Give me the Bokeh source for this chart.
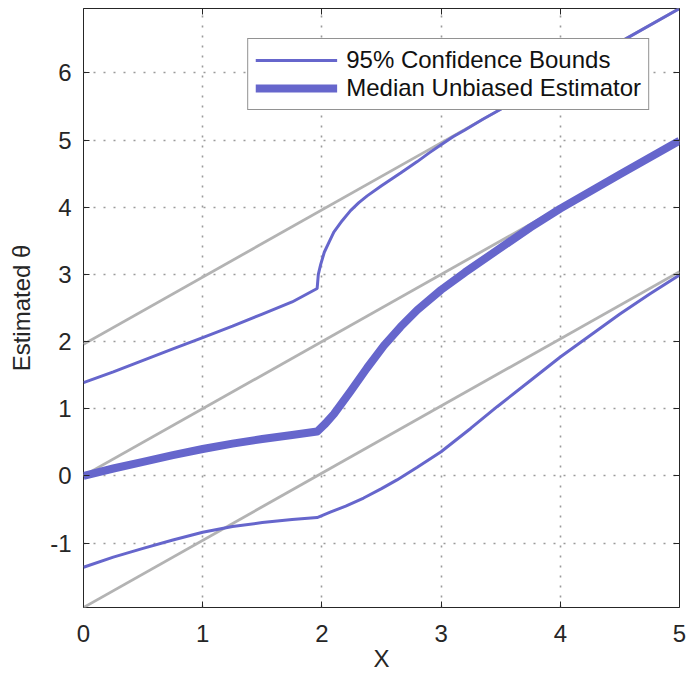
from bokeh.plotting import figure
from bokeh.models import LinearAxis, Legend, LegendItem, Range1d, FixedTicker
from bokeh.embed import file_html
from bokeh.resources import INLINE

# ---- data ----
x_upper = [0.0, 0.25, 0.5, 0.75, 1.0, 1.25, 1.5, 1.75, 1.96, 1.97, 1.99, 2.02, 2.06, 2.1,
           2.17, 2.24, 2.31, 2.38, 2.5, 2.66, 2.8, 2.9, 3.0, 3.1, 3.2, 3.35, 3.5, 4.0, 4.5, 5.0]
y_upper = [1.39, 1.55, 1.72, 1.89, 2.06, 2.23, 2.41, 2.59, 2.79, 3.00, 3.15, 3.33, 3.48, 3.63,
           3.80, 3.95, 4.07, 4.17, 4.32, 4.51, 4.68, 4.81, 4.93, 5.05, 5.15, 5.31, 5.46, 5.96, 6.46, 6.96]

x_median = [0.0, 0.25, 0.5, 0.75, 1.0, 1.25, 1.5, 1.75, 1.96, 2.03, 2.1, 2.24, 2.38, 2.52,
            2.66, 2.8, 3.0, 3.2, 3.47, 3.75, 4.0, 4.5, 5.0]
y_median = [0.0, 0.11, 0.21, 0.31, 0.40, 0.48, 0.55, 0.61, 0.66, 0.78, 0.92, 1.26, 1.61, 1.94,
            2.22, 2.47, 2.77, 3.03, 3.36, 3.70, 3.98, 4.49, 4.99]

x_lower = [0.0, 0.25, 0.5, 0.75, 1.0, 1.25, 1.5, 1.75, 1.96, 2.07, 2.2, 2.35, 2.5, 2.63,
           2.8, 3.0, 3.25, 3.47, 3.75, 4.0, 4.25, 4.5, 4.75, 5.0]
y_lower = [-1.36, -1.21, -1.08, -0.955, -0.84, -0.755, -0.695, -0.65, -0.62, -0.54, -0.45, -0.33,
           -0.19, -0.06, 0.13, 0.36, 0.71, 1.03, 1.42, 1.77, 2.09, 2.41, 2.71, 2.99]

ref_x = [0.0, 5.0]
ref_offsets = [1.96, 0.0, -1.96]

x_ticks = [0, 1, 2, 3, 4, 5]
y_ticks = [-1, 0, 1, 2, 3, 4, 5, 6]
y_tick_labels = {-1: "-1"}

BLUE = "#6666CC"
GRAY = "#B3B3B3"
DARK = "#262626"
FONT = "Liberation Sans"

p = figure(width=686, height=677, output_backend="svg", toolbar_location=None,
           x_range=Range1d(0, 5), y_range=Range1d(-1.96, 6.96),
           min_border_left=83, min_border_right=7, min_border_top=8, min_border_bottom=70,
           x_axis_label="X", y_axis_label="Estimated θ")
p.background_fill_color = "white"
p.border_fill_color = "white"
p.outline_line_color = DARK
p.outline_line_width = 1
p.outline_line_alpha = 1

# reference lines
for off in ref_offsets:
    p.line(ref_x, [v + off for v in ref_x], line_color=GRAY, line_width=2.8)

r_lo = p.line(x_lower, y_lower, line_color=BLUE, line_width=3)
r_up = p.line(x_upper, y_upper, line_color=BLUE, line_width=3)
r_med = p.line(x_median, y_median, line_color=BLUE, line_width=8, line_join="round")

# axes styling
for ax in (p.xaxis[0], p.yaxis[0]):
    ax.axis_line_color = None
    ax.major_tick_in = 6
    ax.major_tick_out = 0
    ax.major_tick_line_color = DARK
    ax.minor_tick_line_color = None
    ax.major_label_text_font = FONT
    ax.major_label_text_font_size = "24px"
    ax.major_label_text_color = DARK
    ax.axis_label_text_font = FONT
    ax.axis_label_text_font_size = "24px"
    ax.axis_label_text_font_style = "normal"
    ax.axis_label_text_color = DARK
p.xaxis[0].ticker = FixedTicker(ticks=x_ticks)
p.yaxis[0].ticker = FixedTicker(ticks=y_ticks)
p.yaxis[0].major_label_overrides = y_tick_labels
p.xaxis[0].major_label_standoff = 17
p.xaxis[0].axis_label_standoff = 0
p.yaxis[0].major_label_standoff = 12
p.yaxis[0].axis_label_standoff = 12

# tick-only axes on top and right (labels not drawn)
for loc, ticks in (("right", y_ticks), ("above", x_ticks)):
    a = LinearAxis(ticker=FixedTicker(ticks=ticks), axis_line_color=None,
                   major_tick_in=6, major_tick_out=0, major_tick_line_color=DARK,
                   minor_tick_line_color=None, major_label_text_font_size="1px",
                   major_label_text_color=None, major_label_standoff=0)
    p.add_layout(a, loc)

# grid
p.xgrid.ticker = FixedTicker(ticks=x_ticks)
p.ygrid.ticker = FixedTicker(ticks=y_ticks)
for g in (p.xgrid[0], p.ygrid[0]):
    g.grid_line_color = "#9a9a9a"
    g.grid_line_dash = "2 8"
    g.grid_line_width = 1.6

legend = Legend(items=[
    LegendItem(label="95% Confidence Bounds", renderers=[r_up]),
    LegendItem(label="Median Unbiased Estimator", renderers=[r_med]),
], location="top_right")
legend.margin = 30
legend.padding = 7
legend.spacing = 0
legend.glyph_width = 82
legend.glyph_height = 26
legend.label_height = 26
legend.label_standoff = 9
legend.label_text_font = FONT
legend.label_text_font_size = "24px"
legend.label_text_color = "#111111"
legend.border_line_color = DARK
legend.border_line_width = 1
legend.background_fill_color = "white"
legend.background_fill_alpha = 1
p.add_layout(legend)

open("out.html", "w").write(file_html(p, INLINE))
